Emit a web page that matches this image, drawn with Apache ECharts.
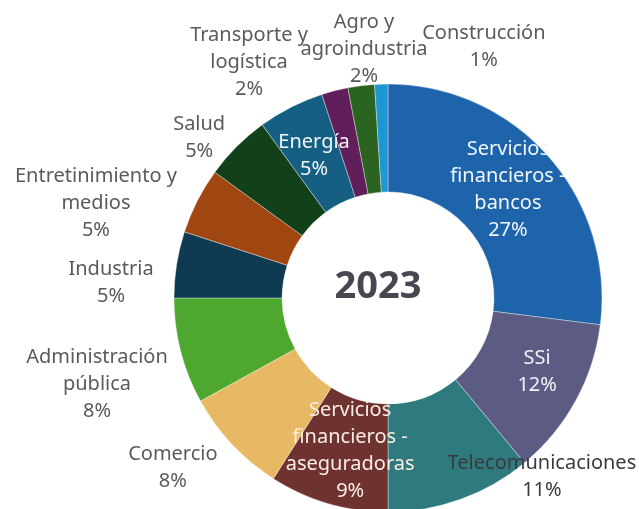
<!DOCTYPE html>
<html>
<head>
<meta charset="utf-8">
<script src="https://cdn.jsdelivr.net/npm/echarts@6/dist/echarts.min.js"></script>
<style>
  html, body { margin: 0; padding: 0; background: #fff; }
  #chart { width: 639px; height: 509px; }
</style>
</head>
<body>
<div id="chart"></div>
<script>
// sectores (orden del gráfico, sentido horario desde arriba)
var sectores = [
  'Servicios\nfinancieros -\nbancos',
  'SSi',
  'Telecomunicaciones',
  'Servicios\nfinancieros -\naseguradoras',
  'Comercio',
  'Administración\npública',
  'Industria',
  'Entretinimiento y\nmedios',
  'Salud',
  'Energía',
  'Transporte y\nlogística',
  'Agro y\nagroindustria',
  'Construcción'
];
var porcentajes = [27, 12, 11, 9, 8, 8, 5, 5, 5, 5, 2, 2, 1];
var anio = '2023';

// estilos
var colores = ['#1E64AA', '#5B5B84', '#2F7A7E', '#6E3230', '#E8B964', '#4EA72E',
  '#0E3A52', '#A04610', '#12401A', '#156082', '#601E5A', '#2A6420', '#1E96D2'];
var coloresTexto = ['#f2f6fb', '#f2f2f6', '#3a3a3a', '#fbeee0', '#5a5a5a', '#5a5a5a',
  '#5a5a5a', '#5a5a5a', '#5a5a5a', '#f2f6fb', '#5a5a5a', '#5a5a5a', '#5a5a5a'];
// ubicación de etiquetas: [factor de radio, desplazamiento angular en grados]
var ubicacion = [[0.754, -0.6], [0.778, -2.4], [1.103, -20.9], [0.736, -2.3], [1.281, 4.9],
  [1.419, -2.2], [1.296, -5.9], [1.435, -9], [1.157, -4.7], [0.748, -0.5], [1.28, -16.1],
  [1.169, 1.7], [1.256, 22.7]];

var CX = 388, CY = 298, R = 214, R0 = 106;

var total = porcentajes.reduce(function (a, b) { return a + b; }, 0);
var acumulado = [];
porcentajes.reduce(function (s, v, i) { acumulado[i] = s; return s + v; }, 0);

var myChart = echarts.init(document.getElementById('chart'), null, { renderer: 'canvas' });
var options = {
  animation: false,
  graphic: [{
    type: 'text',
    style: {
      x: 378, y: 287,
      text: anio,
      fill: '#474752',
      font: 'bold 38px "Noto Sans"',
      textAlign: 'center',
      textVerticalAlign: 'middle'
    }
  }],
  series: [{
    type: 'pie',
    center: [CX, CY],
    radius: [R0, R],
    startAngle: 90,
    clockwise: true,
    avoidLabelOverlap: false,
    itemStyle: { borderColor: 'rgba(255,255,255,0.6)', borderWidth: 0.6 },
    label: {
      show: true,
      position: 'inside',
      formatter: '{b}\n{c}%',
      fontFamily: 'Noto Sans',
      fontSize: 20,
      lineHeight: 27,
      align: 'center'
    },
    labelLine: { show: false },
    labelLayout: function (p) {
      var i = p.dataIndex;
      var ang = (acumulado[i] + porcentajes[i] / 2) / total * 360 + ubicacion[i][1];
      var rad = ang * Math.PI / 180;
      var r = R * ubicacion[i][0];
      return {
        x: CX + r * Math.sin(rad),
        y: CY - r * Math.cos(rad),
        align: 'center',
        verticalAlign: 'middle'
      };
    },
    data: sectores.map(function (s, i) {
      return {
        name: s,
        value: porcentajes[i],
        itemStyle: { color: colores[i] },
        label: { color: coloresTexto[i] }
      };
    })
  }]
};
myChart.setOption(options);
</script>
</body>
</html>
